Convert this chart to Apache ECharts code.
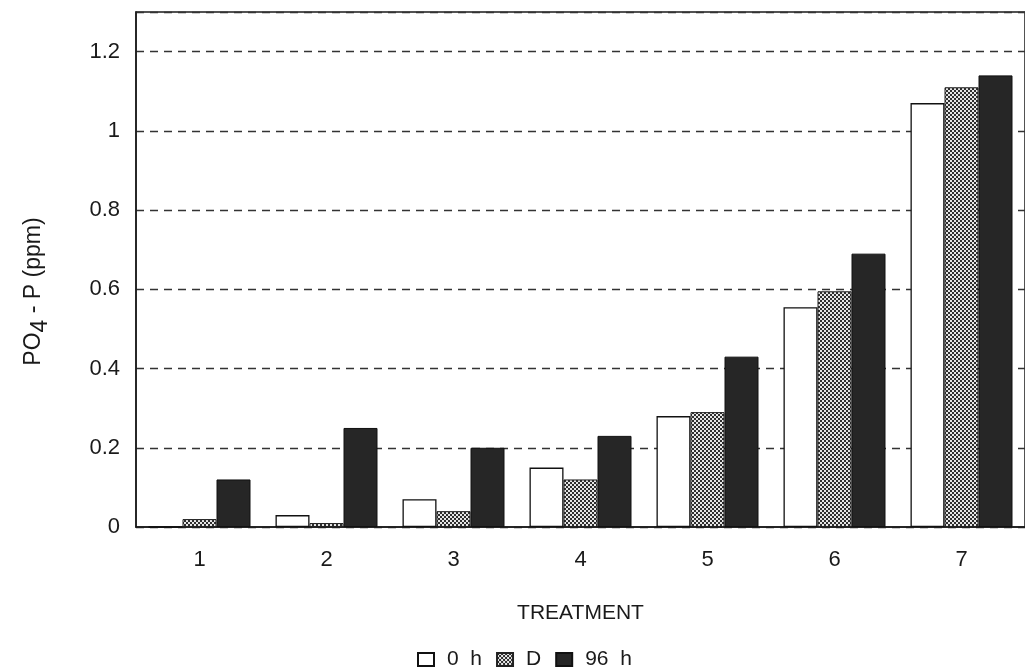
<!DOCTYPE html>
<html>
<head>
<meta charset="utf-8">
<script src="https://cdn.jsdelivr.net/npm/echarts@6/dist/echarts.min.js"></script>
<style>
  html, body { margin: 0; padding: 0; background: #fff; }
  #main { width: 1025px; height: 670px; }
</style>
</head>
<body>
<div id="main"></div>
<script>
// data
var treatments = ['1', '2', '3', '4', '5', '6', '7'];
var h0 = [0, 0.03, 0.07, 0.15, 0.28, 0.555, 1.07];
var hD = [0.02, 0.01, 0.04, 0.12, 0.29, 0.595, 1.11];
var h96 = [0.12, 0.25, 0.2, 0.23, 0.43, 0.69, 1.14];
var seriesNames = ['0 h', 'D', '96 h'];

// checker pattern for the D bars
var pat = document.createElement('canvas');
pat.width = 4;
pat.height = 4;
var ctx = pat.getContext('2d');
ctx.fillStyle = '#e6e6e6';
ctx.fillRect(0, 0, 4, 4);
ctx.fillStyle = '#2e2e2e';
ctx.fillRect(0, 0, 2, 2);
ctx.fillRect(2, 2, 2, 2);

var myChart = echarts.init(document.getElementById('main'));

var font = 'Liberation Sans, Arial, sans-serif';
var ink = '#1a1a1a';

var option = {
    animation: false,
    textStyle: { fontFamily: font },
    grid: {
        left: 136, top: 12, width: 898, height: 515,
        show: true, borderColor: ink, borderWidth: 1.5,
        containLabel: false
    },
    legend: {
        data: seriesNames,
        icon: 'rect',
        left: 412, top: 644,
        itemWidth: 16, itemHeight: 13, itemGap: 14,
        textStyle: { fontSize: 21, color: ink, fontFamily: font, padding: [0, 0, 0, 8] },
        formatter: function (name) { return name.replace(' ', '  '); },
        selectedMode: false
    },
    xAxis: {
        type: 'category',
        data: treatments,
        name: 'TREATMENT',
        nameLocation: 'middle',
        nameGap: 76,
        nameTextStyle: { fontSize: 21, color: ink },
        axisLine: { lineStyle: { color: ink, width: 1.5 } },
        axisTick: { show: false },
        axisLabel: { fontSize: 22, color: ink, margin: 22 }
    },
    yAxis: {
        type: 'value',
        min: 0, max: 1.3, interval: 0.2,
        name: 'PO{sub|4} - P (ppm)',
        nameLocation: 'middle',
        nameGap: 84,
        nameRotate: 90,
        nameTextStyle: {
            fontSize: 23, color: ink,
            padding: [0, 44, 0, 0],
            rich: { sub: { fontSize: 23, verticalAlign: 'bottom', padding: [14, 0, 0, 0] } }
        },
        axisLine: { show: true, lineStyle: { color: ink, width: 1.5 } },
        axisTick: { show: false },
        axisLabel: {
            fontSize: 22, color: ink, margin: 16,
            showMaxLabel: false,
            formatter: function (v) { return v > 1.25 ? '' : String(Math.round(v * 10) / 10); }
        },
        splitLine: { lineStyle: { color: '#333', type: [8, 6], width: 1.4 } }
    },
    series: [
        {
            name: seriesNames[0], type: 'bar', data: h0,
            barWidth: 34, barGap: '0%',
            itemStyle: { color: '#ffffff', borderColor: '#111', borderWidth: 1.3 }
        },
        {
            name: seriesNames[1], type: 'bar', data: hD,
            barWidth: 34,
            itemStyle: { color: { image: pat, repeat: 'repeat' }, borderColor: '#222', borderWidth: 1 }
        },
        {
            name: seriesNames[2], type: 'bar', data: h96,
            barWidth: 34,
            itemStyle: { color: '#262626', borderColor: '#111', borderWidth: 1 }
        }
    ]
};
myChart.setOption(option);
</script>
</body>
</html>
